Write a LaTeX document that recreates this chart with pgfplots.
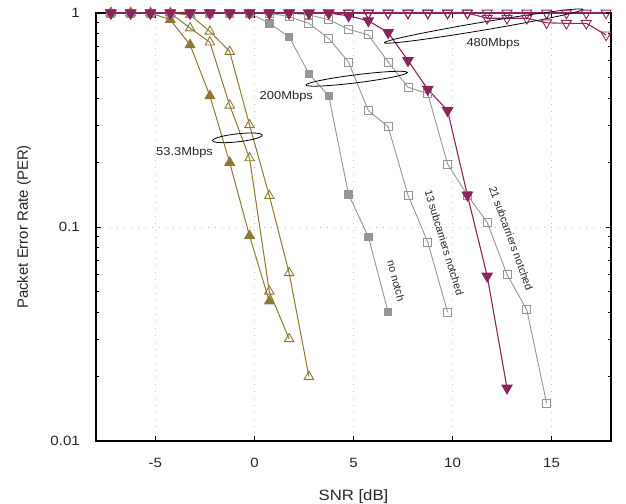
\documentclass[border=0pt]{standalone}
\usepackage{fontspec}
\setmainfont{Liberation Sans}[FakeStretch=1.12]
\newfontfamily\plainsans{Liberation Sans}
\usepackage{pgfplots}
\pgfplotsset{compat=1.18}
\usetikzlibrary{shapes.geometric}
\definecolor{myolive}{RGB}{143,121,50}
\definecolor{mymag}{RGB}{140,36,92}
\definecolor{mygray}{RGB}{150,150,152}
\begin{document}
\begin{tikzpicture}
\begin{axis}[name=ax, scale only axis, width=515bp, height=428bp,
  xmin=-8, xmax=18, ymin=0.01, ymax=1, ymode=log,
  xtick={-5,0,5,10,15}, xticklabels={-5,0,5,10,15},
  ytick={0.01,0.1,1}, yticklabels={0.01,0.1,1},
  minor ytick={0.02,0.03,0.04,0.05,0.06,0.07,0.08,0.09,0.2,0.3,0.4,0.5,0.6,0.7,0.8,0.9},
  tick align=inside, major tick length=5bp, minor tick length=3bp,
  every tick/.style={black, line width=0.8bp},
  axis line style={line width=1.1bp},
  xmajorgrids, ymajorgrids,
  major grid style={black!25, line width=0.8bp, dash pattern=on 1.2bp off 5.8bp},
  clip=false,
  tick label style={font=\fontsize{13.5}{16}\selectfont, text=black!85},
  xticklabel style={anchor=north, inner sep=0pt, yshift=-17bp},
  yticklabel style={anchor=east, inner sep=0pt, xshift=-16bp},
  xlabel={SNR [dB]}, ylabel={Packet Error Rate (PER)},
  xlabel style={at={(axis description cs:0.5,-0.1379)}, anchor=base, inner sep=0pt, font=\fontsize{15}{18}\selectfont, text=black!85},
  ylabel style={at={(axis description cs:-0.1398,0.5)}, anchor=center, inner sep=0pt, font=\plainsans\fontsize{15}{18}\selectfont, text=black!85},
]
% olive (53.3Mbps)
\addplot[myolive, line width=1bp, mark=triangle, mark size=5.5, mark options={solid, line width=0.9bp}] coordinates {
(-7.25,1)(-6.25,1)(-5.25,1)(-4.25,1)(-3.25,0.98)(-2.25,0.82)(-1.25,0.66)(-0.25,0.30)(0.75,0.14)(1.75,0.061)(2.75,0.020)};
\addplot[myolive, line width=1bp, mark=triangle, mark size=5.5, mark options={solid, line width=0.9bp}] coordinates {
(-7.25,1)(-6.25,1)(-5.25,1)(-4.25,1)(-3.25,0.85)(-2.25,0.73)(-1.25,0.37)(-0.25,0.21)(0.75,0.050)(1.75,0.030)};
\addplot[myolive, line width=1bp, mark=triangle*, mark size=5.5, mark options={solid, fill=myolive}] coordinates {
(-7.25,1)(-6.25,1)(-5.25,1)(-4.25,0.93)(-3.25,0.71)(-2.25,0.41)(-1.25,0.20)(-0.25,0.091)(0.75,0.045)};
% gray (200Mbps)
\addplot[mygray, line width=0.9bp, mark=square, mark size=4, mark options={solid, line width=0.9bp}] coordinates {
(-7.25,1)(-6.25,1)(-5.25,1)(-4.25,1)(-3.25,1)(-2.25,1)(-1.25,1)(-0.25,1)(0.75,1)(1.75,1)(2.75,0.98)(3.75,0.93)(4.75,0.84)(5.75,0.79)(6.75,0.59)(7.75,0.45)(8.75,0.42)(9.75,0.197)(10.75,0.141)(11.75,0.105)(12.75,0.060)(13.75,0.041)(14.75,0.015)};
\addplot[mygray, line width=0.9bp, mark=square, mark size=4, mark options={solid, line width=0.9bp}] coordinates {
(-7.25,1)(-6.25,1)(-5.25,1)(-4.25,1)(-3.25,1)(-2.25,1)(-1.25,1)(-0.25,1)(0.75,1)(1.75,0.96)(2.75,0.895)(3.75,0.76)(4.75,0.59)(5.75,0.35)(6.75,0.294)(7.75,0.141)(8.75,0.085)(9.75,0.040)};
\addplot[mygray, line width=0.9bp, mark=square*, mark size=3.7, mark options={solid, fill=mygray}] coordinates {
(-7.25,1)(-6.25,1)(-5.25,1)(-4.25,1)(-3.25,1)(-2.25,1)(-1.25,1)(-0.25,1)(0.75,0.895)(1.75,0.775)(2.75,0.52)(3.75,0.41)(4.75,0.142)(5.75,0.090)(6.75,0.040)};
% magenta (480Mbps)
\addplot[mymag, line width=1.1bp, mark=triangle, mark size=5.8, mark options={solid, rotate=180, line width=0.9bp}] coordinates {
(-7.25,1)(-6.25,1)(-5.25,1)(-4.25,1)(-3.25,1)(-2.25,1)(-1.25,1)(-0.25,1)(0.75,1)(1.75,1)(2.75,1)(3.75,1)(4.75,1)(5.75,1)(6.75,1)(7.75,1)(8.75,1)(9.75,1)(10.75,1)(11.75,0.945)(12.75,0.945)(13.75,0.945)(14.75,0.90)(15.75,0.895)(16.75,0.895)(17.75,0.79)};
\addplot[mymag, line width=1.1bp, mark=triangle, mark size=5.8, mark options={solid, rotate=180, line width=0.9bp}] coordinates {
(-7.25,1)(-6.25,1)(-5.25,1)(-4.25,1)(-3.25,1)(-2.25,1)(-1.25,1)(-0.25,1)(0.75,1)(1.75,1)(2.75,1)(3.75,1)(4.75,1)(5.75,1)(6.75,1)(7.75,1)(8.75,1)(9.75,1)(10.75,1)(11.75,1)(12.75,1)(13.75,1)(14.75,1)(15.75,1)(16.75,1)(17.75,1)};
\addplot[mymag, line width=1.1bp, mark=triangle*, mark size=5.8, mark options={solid, rotate=180, fill=mymag}] coordinates {
(-7.25,1)(-6.25,1)(-5.25,1)(-4.25,1)(-3.25,1)(-2.25,1)(-1.25,1)(-0.25,1)(0.75,1)(1.75,1)(2.75,1)(3.75,1)(4.75,0.97)(5.75,0.92)(6.75,0.81)(7.75,0.60)(8.75,0.44)(9.75,0.35)(10.75,0.141)(11.75,0.059)(12.75,0.0177)};
% annotations
\node[draw=black, line width=0.8bp, ellipse, minimum width=50bp, minimum height=8bp, inner sep=0pt, rotate=6.4] at (axis cs:-0.86,0.261) {};
\node[draw=black, line width=0.8bp, ellipse, minimum width=102bp, minimum height=8bp, inner sep=0pt, rotate=7.1] at (axis cs:5.16,0.493) {};
\node[draw=black, line width=0.8bp, ellipse, minimum width=201bp, minimum height=8bp, inner sep=0pt, rotate=9.55] at (axis cs:11.57,0.869) {};
\node[font=\fontsize{11.6}{14}\selectfont, text=black!85] at (axis cs:-3.53,0.223) {53.3Mbps};
\node[font=\fontsize{11.6}{14}\selectfont, text=black!85] at (axis cs:1.61,0.405) {200Mbps};
\node[font=\fontsize{11.6}{14}\selectfont, text=black!85] at (axis cs:12.05,0.719) {480Mbps};
\node[rotate=-75, font=\plainsans\fontsize{10.8}{13}\selectfont, text=black!85] at (axis cs:7.15,0.056) {no notch};
\node[rotate=-73, font=\plainsans\fontsize{10.8}{13}\selectfont, text=black!85] at (axis cs:9.58,0.0846) {13 subcarriers notched};
\node[rotate=-70, font=\plainsans\fontsize{10.8}{13}\selectfont, text=black!85] at (axis cs:12.96,0.0886) {21 subcarriers notched};
\end{axis}
\pgfresetboundingbox
\path[use as bounding box] ([xshift=-96bp,yshift=-63bp]ax.south west) rectangle ([xshift=15bp,yshift=13bp]ax.north east);
\end{tikzpicture}
\end{document}
